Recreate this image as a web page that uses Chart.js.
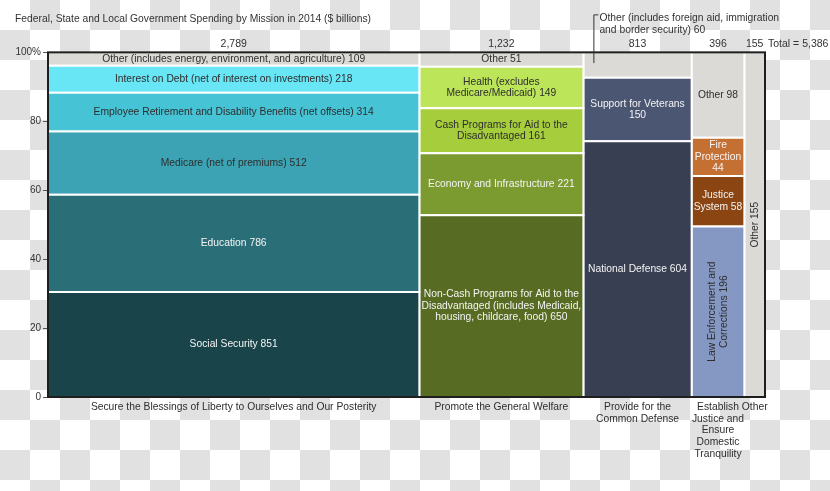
<!DOCTYPE html>
<html>
<head>
<meta charset="utf-8">
<script src="https://cdn.jsdelivr.net/npm/chart.js@4/dist/chart.umd.min.js"></script>
<style>
  html, body { margin: 0; padding: 0; }
  body {
    width: 830px; height: 491px;
    background-color: #fff;
    background-image: conic-gradient(#e1e1e1 25%, transparent 0 50%, #e1e1e1 0 75%, transparent 0);
    background-size: 60px 60px;
  }
  #caixa { position: relative; width: 830px; height: 491px; }
</style>
</head>
<body>
<div id="caixa"><canvas id="grafica-despesa" width="830" height="491"></canvas></div>
<script>
// Missions (columns) and their totals in $ billions
const missions = [
    'Secure the Blessings of Liberty to Ourselves and Our Posterity',
    'Promote the General Welfare',
    ['Provide for the', 'Common Defense'],
    ['Establish', 'Justice and', 'Ensure', 'Domestic', 'Tranquility'],
    'Other'
];
const missionTotals = [2789, 1232, 813, 396, 155];
const totalGeneral = '5,386';

// Segments inside each column, bottom to top ('\n' = line break in the label)
const secureNames = ['Social Security', 'Education', 'Medicare (net of premiums)',
    'Employee Retirement and Disability Benefits (net offsets)',
    'Interest on Debt (net of interest on investments)',
    'Other (includes energy, environment, and agriculture)'];
const secureValues = [851, 786, 512, 314, 218, 109];

const welfareNames = ['Non-Cash Programs for Aid to the\nDisadvantaged (includes Medicaid,\nhousing, childcare, food)',
    'Economy and Infrastructure', 'Cash Programs for Aid to the\nDisadvantaged',
    'Health (excludes\nMedicare/Medicaid)', 'Other'];
const welfareValues = [650, 221, 161, 149, 51];

const defenseNames = ['National Defense', 'Support for Veterans\n',
    'Other (includes foreign aid, immigration\nand border security)'];
const defenseValues = [604, 150, 60];

const justiceNames = ['Law Enforcement and\nCorrections', 'Justice\nSystem', 'Fire\nProtection\n', 'Other'];
const justiceValues = [196, 58, 44, 98];

const otherNames = ['Other'];
const otherValues = [155];

// colours
const gris = '#dcdad6';
const secureColors = ['#18444a', '#2a6f78', '#3ba3b3', '#46c3d4', '#68e6f5', gris];
const welfareColors = ['#576b22', '#7b9a2f', '#a6cd3b', '#bde55a', gris];
const defenseColors = ['#383f52', '#4b5672', gris];
const justiceColors = ['#8598c4', '#8b4513', '#c47033', gris];
const otherColors = [gris];

const fosc = '#2e2e2e', clar = '#f4f4f4';
const secureText = [clar, clar, fosc, fosc, fosc, fosc];
const welfareText = [clar, clar, fosc, fosc, fosc];
const defenseText = [clar, clar, fosc];
const justiceText = [fosc, clar, clar, fosc];
const otherText = [fosc];

const columnes = [
    { noms: secureNames, valors: secureValues, colors: secureColors, text: secureText },
    { noms: welfareNames, valors: welfareValues, colors: welfareColors, text: welfareText },
    { noms: defenseNames, valors: defenseValues, colors: defenseColors, text: defenseText },
    { noms: justiceNames, valors: justiceValues, colors: justiceColors, text: justiceText },
    { noms: otherNames, valors: otherValues, colors: otherColors, text: otherText }
];

const maxX = missionTotals.reduce((a, b) => a + b, 0);

// each segment becomes a closed polygon (line dataset filled as 'shape')
const datasets = [];
const centres = [];
let inici = 0;
missionTotals.forEach((total, c) => {
    const col = columnes[c];
    const suma = col.valors.reduce((a, b) => a + b, 0);
    let acum = 0;
    col.valors.forEach((v, i) => {
        const y0 = acum / suma * 100;
        const y1 = (acum + v) / suma * 100;
        acum += v;
        const nom = col.noms[i];
        datasets.push({
            label: nom,
            etiqueta: nom.endsWith('\n') ? nom + v : nom + ' ' + v,
            vertical: c === 4 || (c === 3 && i === 0),
            crida: c === 2 && i === col.valors.length - 1,
            colorText: col.text[i],
            data: [
                { x: inici, y: y0 }, { x: inici + total, y: y0 },
                { x: inici + total, y: y1 }, { x: inici, y: y1 }, { x: inici, y: y0 }
            ],
            backgroundColor: col.colors[i],
            borderColor: '#ffffff',
            borderWidth: 2,
            fill: 'shape',
            pointRadius: 0,
            tension: 0
        });
    });
    centres.push(inici + total / 2);
    inici += total;
});

const fontBase = '"Liberation Sans", Arial, sans-serif';

const etiquetesPlugin = {
    id: 'etiquetes',
    afterDatasetsDraw(chart) {
        const ctx = chart.ctx;
        const area = chart.chartArea;
        ctx.save();
        // frame
        ctx.strokeStyle = '#1e1e1e';
        ctx.lineWidth = 2;
        ctx.strokeRect(area.left, area.top, area.right - area.left, area.bottom - area.top);

        ctx.font = '10.3px ' + fontBase;
        ctx.textBaseline = 'middle';
        const alt = 11.5;
        chart.data.datasets.forEach((ds, i) => {
            const p = chart.getDatasetMeta(i).data;
            const cx = (p[0].x + p[2].x) / 2;
            const cy = (p[0].y + p[2].y) / 2;
            const linies = ds.etiqueta.split('\n');
            ctx.fillStyle = ds.colorText;
            if (ds.crida) {
                const lx = p[0].x + 10;
                const ty = area.top - 38;
                ctx.strokeStyle = '#333';
                ctx.lineWidth = 1;
                ctx.beginPath();
                ctx.moveTo(lx + 0.5, cy - 2);
                ctx.lineTo(lx + 0.5, ty + 0.5);
                ctx.lineTo(lx + 5, ty + 0.5);
                ctx.stroke();
                ctx.fillStyle = '#333';
                ctx.textAlign = 'left';
                linies.forEach((l, k) => ctx.fillText(l, lx + 6, ty + 4 + k * alt));
                return;
            }
            ctx.textAlign = 'center';
            if (ds.vertical) {
                ctx.save();
                ctx.translate(cx, cy);
                ctx.rotate(-Math.PI / 2);
                linies.forEach((l, k) => ctx.fillText(l, 0, (k - (linies.length - 1) / 2) * alt));
                ctx.restore();
            } else {
                linies.forEach((l, k) => ctx.fillText(l, cx, cy + (k - (linies.length - 1) / 2) * alt));
            }
        });

        // grand total to the right of the top axis labels
        ctx.fillStyle = '#333';
        ctx.textAlign = 'left';
        ctx.font = '10.5px ' + fontBase;
        ctx.fillText('Total = ' + totalGeneral, area.right + 3, area.top - 8);
        ctx.restore();
    }
};

const ctx = document.getElementById('grafica-despesa').getContext('2d');

new Chart(ctx, {
    type: 'line',
    data: { datasets: datasets },
    plugins: [etiquetesPlugin],
    options: {
        responsive: false,
        animation: false,
        events: [],
        layout: { padding: { left: 15, right: 65, top: 0, bottom: 0 } },
        scales: {
            x: {
                type: 'linear',
                position: 'bottom',
                min: 0,
                max: maxX,
                bounds: 'data',
                grid: { display: false, drawTicks: false },
                border: { display: false },
                afterBuildTicks: scale => { scale.ticks = centres.map(v => ({ value: v })); },
                afterFit: scale => { scale.height = 94; },
                ticks: {
                    autoSkip: false,
                    maxRotation: 0,
                    padding: 4,
                    color: '#2e2e2e',
                    font: { family: '"Liberation Sans Narrow", "Arial Narrow", ' + fontBase, size: 10.3, lineHeight: 1.15 },
                    callback: (v, i) => missions[i]
                }
            },
            xTop: {
                type: 'linear',
                position: 'top',
                min: 0,
                max: maxX,
                bounds: 'data',
                grid: { display: false, drawTicks: false },
                border: { display: false },
                afterBuildTicks: scale => { scale.ticks = centres.map(v => ({ value: v })); },
                afterFit: scale => { scale.height = 27; },
                ticks: {
                    autoSkip: false,
                    maxRotation: 0,
                    padding: 2,
                    color: '#333',
                    font: { family: fontBase, size: 10.5 },
                    callback: (v, i) => missionTotals[i].toLocaleString('en-US')
                }
            },
            y: {
                min: 0,
                max: 100,
                afterFit: scale => { scale.width = 33; },
                grid: { drawOnChartArea: false, drawTicks: true, tickLength: 5, color: '#555' },
                border: { display: false },
                ticks: {
                    stepSize: 20,
                    padding: 2,
                    color: '#333',
                    font: { family: fontBase, size: 10 },
                    callback: v => v === 100 ? '100%' : v
                }
            }
        },
        plugins: {
            legend: { display: false },
            tooltip: { enabled: false },
            title: {
                display: true,
                text: 'Federal, State and Local Government Spending by Mission in 2014 ($ billions)',
                align: 'start',
                color: '#333',
                font: { family: fontBase, size: 10.3, weight: 'normal' },
                padding: { top: 13, bottom: 0 }
            }
        }
    }
});
</script>
</body>
</html>
